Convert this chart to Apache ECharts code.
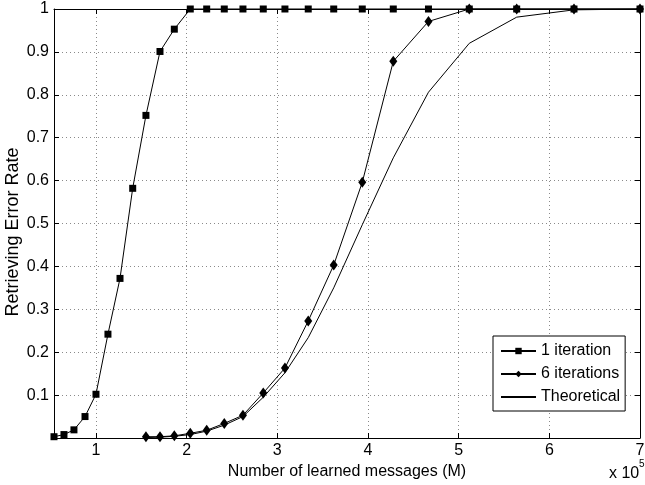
<!DOCTYPE html>
<html>
<head>
<meta charset="utf-8">
<script src="https://cdn.jsdelivr.net/npm/echarts@6/dist/echarts.min.js"></script>
<style>html,body{margin:0;padding:0;background:#fff;}#c{width:645px;height:485px;}</style>
</head>
<body>
<div id="c"></div>
<script>
// x values in units of 10^5 messages
var xGrid = [0.537, 0.647, 0.757, 0.879, 1.0, 1.132, 1.265, 1.405, 1.551, 1.706, 1.864, 2.04, 2.221, 2.415, 2.621, 2.845, 3.084, 3.341, 3.622, 3.937, 4.279, 4.667, 5.117, 5.64, 6.272, 7.0];
var oneIter = [0.003, 0.008, 0.019, 0.05, 0.102, 0.242, 0.372, 0.582, 0.752, 0.901, 0.953, 1, 1, 1, 1, 1, 1, 1, 1, 1, 1, 1, 1, 1, 1, 1];
var sixIterX = [1.551, 1.706, 1.864, 2.04, 2.221, 2.415, 2.621, 2.845, 3.084, 3.341, 3.622, 3.937, 4.279, 4.667, 5.117, 5.64, 6.272, 7.0];
var sixIter = [0.003, 0.003, 0.005, 0.011, 0.018, 0.034, 0.053, 0.105, 0.163, 0.273, 0.403, 0.596, 0.878, 0.971, 1, 1, 1, 1];
var theoX = [1.551, 1.706, 1.864, 2.04, 2.221, 2.415, 2.621, 2.845, 3.084, 3.341, 3.622, 3.937, 4.279, 4.667, 5.117, 5.64, 6.272, 7.0];
var theo = [0.001, 0.002, 0.004, 0.008, 0.016, 0.03, 0.05, 0.095, 0.152, 0.234, 0.35, 0.497, 0.653, 0.806, 0.92, 0.981, 0.998, 1.0];
var xTicks = [1, 2, 3, 4, 5, 6, 7];
var yTickLabels = ['0.1','0.2','0.3','0.4','0.5','0.6','0.7','0.8','0.9','1'];
var xTitle = 'Number of learned messages (M)';
var yTitle = 'Retrieving Error Rate';

function pairs(xs, ys) { return xs.map(function (x, i) { return [x, ys[i]]; }); }

var FONT = '"Liberation Sans", Arial, Helvetica, sans-serif';
var FS = 16;
var chart = echarts.init(document.getElementById('c'), null, {renderer: 'canvas'});
var gridLine = {show: true, lineStyle: {color: '#8a8a8a', type: [1, 3], width: 1}};
var option = {
  animation: false,
  backgroundColor: '#fff',
  grid: {left: 54, right: 5, top: 9, bottom: 47, containLabel: false, outerBoundsMode: 'none'},
  xAxis: [{
    type: 'value', min: 0.537, max: 7,
    axisLine: {show: true, onZero: false, lineStyle: {color: '#000', width: 1}},
    axisTick: {show: true, inside: true, length: 5, customValues: xTicks, lineStyle: {color: '#000'}},
    axisLabel: {customValues: xTicks, color: '#000', fontSize: FS, fontFamily: FONT, margin: 5},
    splitLine: gridLine,
    name: xTitle, nameLocation: 'middle', nameGap: 19,
    nameTextStyle: {color: '#000', fontSize: FS, fontFamily: FONT}
  }, {
    type: 'value', min: 0.537, max: 7, position: 'top',
    axisLine: {show: true, onZero: false, lineStyle: {color: '#000', width: 1}},
    axisTick: {show: true, inside: true, length: 5, customValues: xTicks, lineStyle: {color: '#000'}},
    axisLabel: {show: false}, splitLine: {show: false}
  }],
  yAxis: [{
    type: 'value', min: 0, max: 1, interval: 0.1,
    axisLine: {show: true, onZero: false, lineStyle: {color: '#000', width: 1}},
    axisTick: {show: true, inside: true, length: 5, lineStyle: {color: '#000'}},
    axisLabel: {color: '#000', fontSize: FS, fontFamily: FONT, margin: 5,
      formatter: function (v) { var i = Math.round(v * 10) - 1; return i >= 0 ? yTickLabels[i] : ''; }},
    splitLine: gridLine
  }, {
    type: 'value', min: 0, max: 1, interval: 0.1, position: 'right',
    axisLine: {show: true, onZero: false, lineStyle: {color: '#000', width: 1}},
    axisTick: {show: true, inside: true, length: 5, lineStyle: {color: '#000'}},
    axisLabel: {show: false}, splitLine: {show: false}
  }],
  legend: {
    orient: 'vertical', left: 493, top: 336,
    backgroundColor: '#fff', borderColor: '#000', borderWidth: 1, borderRadius: 0,
    padding: [6, 5, 5, 7], itemWidth: 35, itemHeight: 8, itemGap: 5,
    textStyle: {color: '#000', fontSize: FS, fontFamily: FONT, lineHeight: 18},
    data: ['1 iteration', '6 iterations',
      {name: 'Theoretical', itemStyle: {color: 'rgba(0,0,0,0)', borderWidth: 0}}]
  },
  graphic: [{
    type: 'text', x: 13, y: 232, rotation: Math.PI / 2,
    style: {text: yTitle, fill: '#000', font: '18px ' + FONT, align: 'center', verticalAlign: 'middle'}
  }, {
    type: 'text', left: 609, top: 466,
    style: {text: 'x 10', fill: '#000', font: FS + 'px ' + FONT}
  }, {
    type: 'text', left: 639, top: 459,
    style: {text: '5', fill: '#000', font: '10px ' + FONT}
  }],
  series: [{
    name: '1 iteration', type: 'line', data: pairs(xGrid, oneIter),
    symbol: 'rect', symbolSize: 7, showAllSymbol: true,
    lineStyle: {color: '#000', width: 1}, itemStyle: {color: '#000'}, clip: false
  }, {
    name: '6 iterations', type: 'line', data: pairs(sixIterX, sixIter),
    symbol: 'diamond', symbolSize: [8, 11], showAllSymbol: true,
    lineStyle: {color: '#000', width: 1}, itemStyle: {color: '#000'}, clip: false
  }, {
    name: 'Theoretical', type: 'line', data: pairs(theoX, theo),
    symbol: 'none', lineStyle: {color: '#000', width: 1}, itemStyle: {color: '#000'}
  }]
};
chart.setOption(option);
</script>
</body>
</html>
